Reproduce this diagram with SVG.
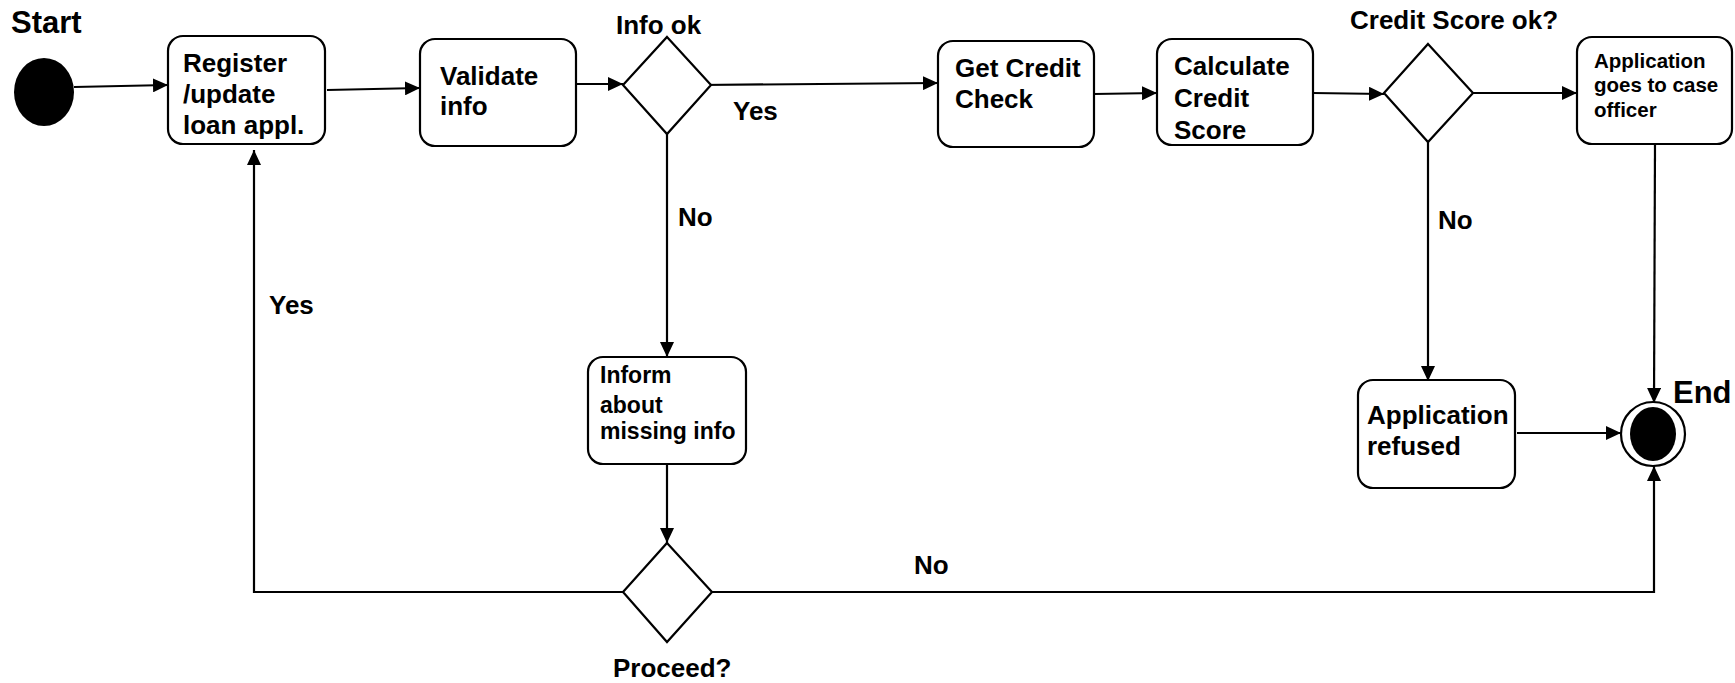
<svg xmlns="http://www.w3.org/2000/svg" width="1735" height="683" viewBox="0 0 1735 683">
  <style>
    .box { fill: #ffffff; stroke: #000000; stroke-width: 2.2; }
    .dec { fill: #ffffff; stroke: #000000; stroke-width: 2.2; }
    .edge { fill: none; stroke: #000000; stroke-width: 2.2; }
    .arr { marker-end: url(#head); }
    text { font-family: "Liberation Sans", Arial, sans-serif; font-weight: bold; fill: #000000; }
    .t26 { font-size: 26px; }
    .t23 { font-size: 23px; }
    .t21 { font-size: 20.5px; }
    .t31 { font-size: 31px; }
  </style>
  <defs>
    <marker id="head" markerUnits="userSpaceOnUse" markerWidth="16" markerHeight="14" refX="15" refY="7" orient="auto">
      <path d="M0,0 L15,7 L0,14 z" fill="#000000"/>
    </marker>
  </defs>

  <rect width="1735" height="683" fill="#ffffff"/>

  <!-- connectors -->
  <g id="connectors">
    <line class="edge arr" x1="74" y1="87" x2="168" y2="85"/>
    <line class="edge arr" x1="327" y1="90" x2="420" y2="88"/>
    <line class="edge arr" x1="576" y1="84" x2="623" y2="84"/>
    <line class="edge arr" x1="700" y1="85" x2="938" y2="83"/>
    <line class="edge arr" x1="1094" y1="94" x2="1157" y2="93"/>
    <line class="edge arr" x1="1313" y1="93" x2="1384" y2="94"/>
    <line class="edge arr" x1="1473" y1="93" x2="1577" y2="93"/>
    <line class="edge arr" x1="1655" y1="144" x2="1654" y2="403"/>
    <line class="edge arr" x1="1428" y1="142" x2="1428" y2="381"/>
    <line class="edge arr" x1="1517" y1="433" x2="1621" y2="433"/>
    <line class="edge arr" x1="667" y1="134" x2="667" y2="357"/>
    <line class="edge arr" x1="667" y1="464" x2="667" y2="543"/>
    <polyline class="edge arr" points="623,592 254,592 254,150"/>
    <polyline class="edge arr" points="711,592 1654,592 1654,466"/>
    <text class="t26" x="733" y="120">Yes</text>
    <text class="t26" x="678" y="226">No</text>
    <text class="t26" x="1438" y="229">No</text>
    <text class="t26" x="269" y="314">Yes</text>
    <text class="t26" x="914" y="574">No</text>
  </g>

  <!-- start -->
  <g id="start">
    <ellipse cx="44" cy="92" rx="30" ry="34" fill="#000000"/>
    <text class="t31" x="11" y="33">Start</text>
  </g>

  <g id="register">
    <rect class="box" x="168" y="36" width="157" height="108" rx="15"/>
    <text class="t26" x="183" y="72">Register</text>
    <text class="t26" x="183" y="103">/update</text>
    <text class="t26" x="183" y="134">loan appl.</text>
  </g>

  <g id="validate">
    <rect class="box" x="420" y="39" width="156" height="107" rx="15"/>
    <text class="t26" x="440" y="85">Validate</text>
    <text class="t26" x="440" y="115">info</text>
  </g>

  <g id="info-ok">
    <polygon class="dec" points="667,37 711,85 667,134 623,85"/>
    <text class="t26" x="616" y="34">Info ok</text>
  </g>

  <g id="get-credit-check">
    <rect class="box" x="938" y="41" width="156" height="106" rx="15"/>
    <text class="t26" x="955" y="77">Get Credit</text>
    <text class="t26" x="955" y="108">Check</text>
  </g>

  <g id="calculate-score">
    <rect class="box" x="1157" y="39" width="156" height="106" rx="15"/>
    <text class="t26" x="1174" y="75">Calculate</text>
    <text class="t26" x="1174" y="107">Credit</text>
    <text class="t26" x="1174" y="139">Score</text>
  </g>

  <g id="score-ok">
    <polygon class="dec" points="1428,44 1473,93 1428,142 1384,93"/>
    <text class="t26" x="1350" y="29">Credit Score ok?</text>
  </g>

  <g id="case-officer">
    <rect class="box" x="1577" y="37" width="155" height="107" rx="15"/>
    <text class="t21" x="1594" y="68">Application</text>
    <text class="t21" x="1594" y="92">goes to case</text>
    <text class="t21" x="1594" y="117">officer</text>
  </g>

  <g id="inform">
    <rect class="box" x="588" y="357" width="158" height="107" rx="15"/>
    <text class="t23" x="600" y="383">Inform</text>
    <text class="t23" x="600" y="413">about</text>
    <text class="t23" x="600" y="439">missing info</text>
  </g>

  <g id="proceed">
    <polygon class="dec" points="667,543 712,592 667,642 623,592"/>
    <text class="t26" x="613" y="677">Proceed?</text>
  </g>

  <g id="refused">
    <rect class="box" x="1358" y="380" width="157" height="108" rx="15"/>
    <text class="t26" x="1367" y="424">Application</text>
    <text class="t26" x="1367" y="455">refused</text>
  </g>

  <g id="end">
    <ellipse cx="1653" cy="434" rx="32" ry="32" fill="#ffffff" stroke="#000000" stroke-width="2.2"/>
    <ellipse cx="1653" cy="434" rx="23" ry="27" fill="#000000"/>
    <text class="t31" x="1673" y="403">End</text>
  </g>
</svg>
